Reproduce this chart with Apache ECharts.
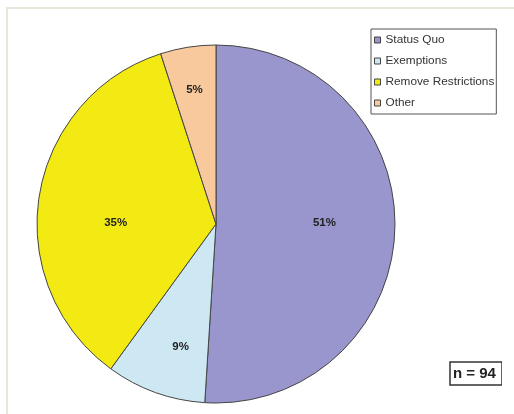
<!DOCTYPE html>
<html>
<head>
<meta charset="utf-8">
<script src="https://cdn.jsdelivr.net/npm/echarts@6/dist/echarts.min.js"></script>
<style>
  html, body { margin: 0; padding: 0; background: #ffffff; }
  #wrap { position: relative; width: 514px; height: 414px; overflow: hidden; }
  #frame { position: absolute; left: 6px; top: 7px; width: 520px; height: 420px;
           border-top: 2px solid #e8e6da; border-left: 2px solid #e8e6da; }
  #chart { position: absolute; left: 0; top: 0; width: 502px; height: 414px; }
</style>
</head>
<body>
<div id="wrap">
  <div id="frame"></div>
  <div id="chart"></div>
</div>
<script>
const categories = ['Status Quo', 'Exemptions', 'Remove Restrictions', 'Other'];
const values = [51, 9, 35, 5];
const colors = ['#9896cc', '#cde8f3', '#f2ea12', '#f8c99c'];
const labelOffsets = [[16, -4], [-4, 36], [-9, 13], [-7, -43]];
const sampleNote = 'n = 94';

const chart = echarts.init(document.getElementById('chart'), null, { renderer: 'canvas' });

const data = categories.map((name, i) => ({
  name: name,
  value: values[i],
  itemStyle: { color: colors[i] },
  label: { offset: labelOffsets[i] }
}));

chart.setOption({
  backgroundColor: 'transparent',
  animation: false,
  title: {
    text: sampleNote,
    left: 450,
    top: 362,
    padding: [4, 6, 3, 3],
    borderColor: '#333',
    borderWidth: 1.5,
    backgroundColor: '#fff',
    textStyle: { fontFamily: 'Liberation Sans, Arial, sans-serif', fontSize: 15, fontWeight: 'bold', color: '#222', lineHeight: 16 }
  },
  legend: {
    orient: 'vertical',
    left: 371,
    top: 29,
    padding: [5, 2, 5, 3],
    itemWidth: 6,
    itemHeight: 6,
    itemGap: 9,
    icon: 'rect',
    borderColor: '#555',
    borderWidth: 1,
    backgroundColor: '#fff',
    itemStyle: { borderColor: '#444', borderWidth: 1 },
    textStyle: { fontFamily: 'Liberation Sans, Arial, sans-serif', fontSize: 11.8, color: '#333', lineHeight: 12, padding: [0, 0, 0, 0] },
    data: categories
  },
  series: [{
    type: 'pie',
    center: [216, 224],
    radius: 179,
    startAngle: 90,
    clockwise: true,
    avoidLabelOverlap: false,
    itemStyle: { borderColor: '#444', borderWidth: 1 },
    label: {
      show: true,
      position: 'inside',
      formatter: '{c}%',
      fontFamily: 'Liberation Sans, Arial, sans-serif',
      fontSize: 11.5,
      fontWeight: 'bold',
      color: '#222'
    },
    labelLine: { show: false },
    emphasis: { disabled: true },
    data: data
  }]
});
</script>
</body>
</html>
